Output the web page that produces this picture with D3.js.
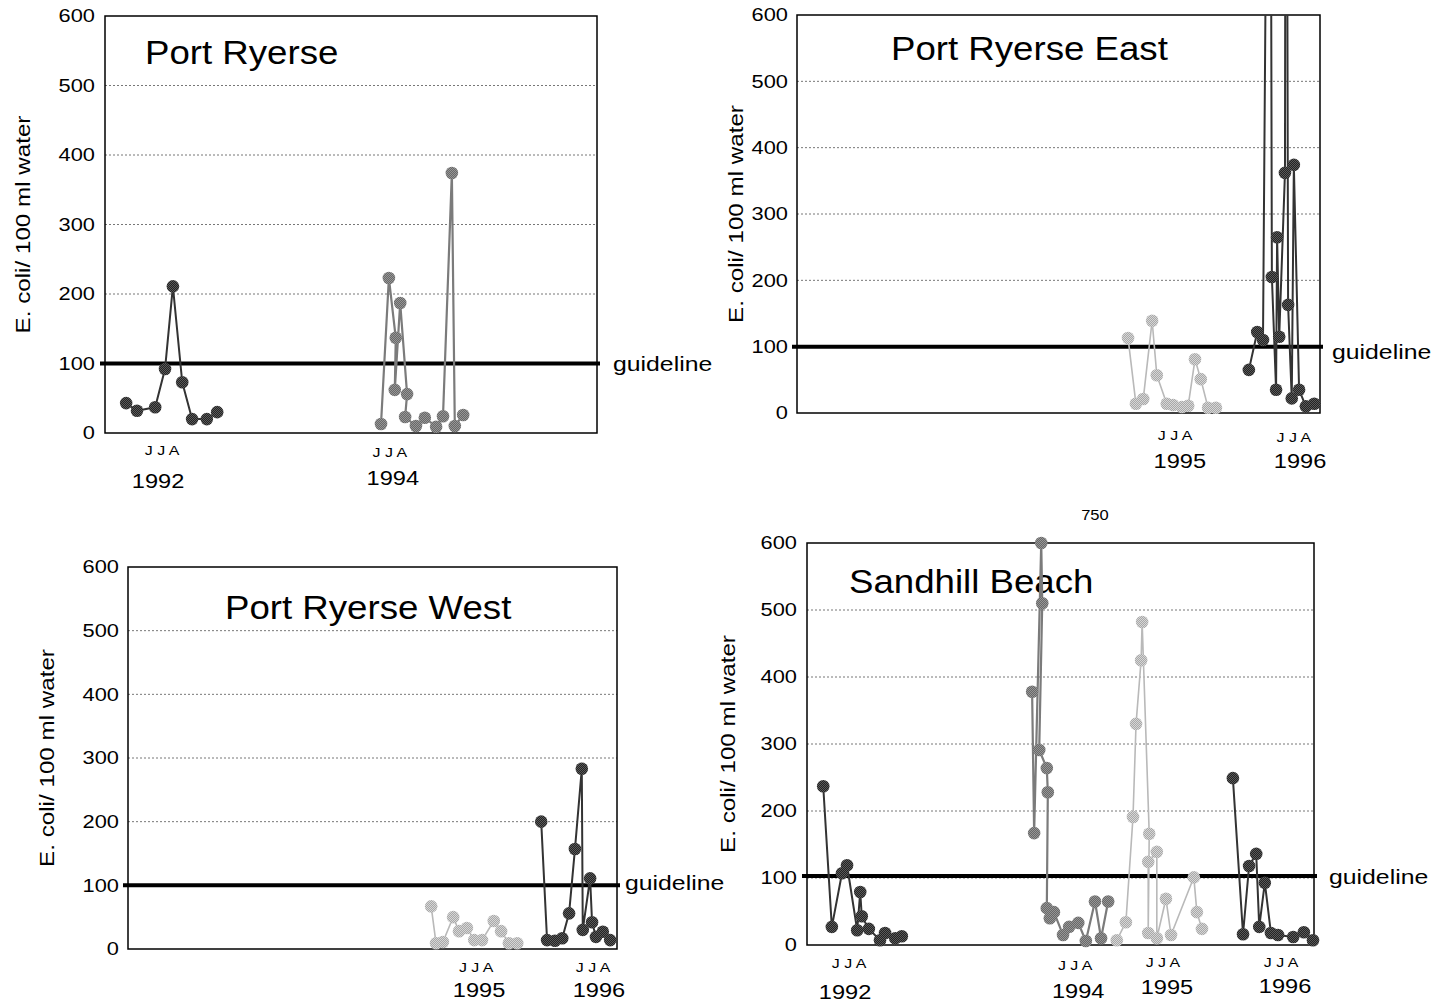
<!DOCTYPE html>
<html>
<head>
<meta charset="utf-8">
<script src="https://cdn.jsdelivr.net/npm/d3@7"></script>
<style>
  body { margin: 0; background: #fff; }
  svg { display: block; font-family: "Liberation Sans", Arial, Helvetica, sans-serif; }
</style>
</head>
<body>
<svg id="chart" width="1440" height="1005"></svg>
<script>
// ---------------- data ----------------
const panelTitles = ["Port Ryerse", "Port Ryerse East", "Port Ryerse West", "Sandhill Beach"];
const yTicks = [0, 100, 200, 300, 400, 500, 600];
const gridValues = [100, 200, 300, 400, 500];
const guidelineValues = [100, 100, 100, 103];
const yAxisTitle = "E. coli/ 100 ml water";
const guidelineLabel = "guideline";
const monthLabel = "J J A";

// sampling position along each panel's time axis (0-100) and E. coli per 100 ml
// Port Ryerse
const pr1992T = [4.3, 6.5, 10.2, 12.2, 13.8, 15.7, 17.7, 20.7, 22.8];
const pr1992V = [43, 32, 37, 92, 211, 73, 20, 20, 30];
const pr1994T = [56.1, 57.7, 59.1, 58.9, 60.0, 61.4, 61.0, 63.2, 65.0, 67.3, 68.7, 70.5, 71.1, 72.8];
const pr1994V = [13, 223, 137, 62, 187, 56, 23, 10, 22, 9, 24, 374, 10, 26];
// Port Ryerse East
const pre1995T = [63.3, 64.8, 66.2, 67.9, 68.8, 70.7, 71.9, 73.6, 74.8, 76.1, 77.2, 78.6, 80.1];
const pre1995V = [113, 14, 21, 139, 57, 14, 12, 9, 11, 81, 51, 8, 8];
const pre1996T = [86.4, 88.0, 89.1, 90.4, 90.8, 91.6, 91.8, 92.2, 93.3, 93.5, 93.9, 94.6, 95.0, 96.0, 97.3, 98.9];
const pre1996V = [65, 122, 110, 1500, 205, 35, 265, 115, 362, 1500, 163, 22, 374, 35, 10, 14];
// Port Ryerse West
const prw1995T = [62.0, 63.0, 64.4, 66.5, 67.7, 69.3, 70.8, 72.4, 74.8, 76.3, 77.9, 79.6];
const prw1995V = [67, 9, 11, 50, 28, 33, 14, 14, 44, 28, 9, 9];
const prw1996T = [84.5, 85.7, 87.3, 88.8, 90.2, 91.4, 92.8, 93.0, 94.5, 94.9, 95.7, 97.1, 98.6];
const prw1996V = [200, 14, 13, 17, 56, 157, 283, 30, 111, 42, 19, 27, 14];
// Sandhill Beach
const sb1992T = [3.2, 4.9, 6.9, 7.9, 9.9, 10.5, 10.8, 12.2, 14.4, 15.4, 17.4, 18.7];
const sb1992V = [237, 27, 107, 119, 22, 79, 43, 24, 7, 18, 10, 13];
const sb1994T = [44.4, 44.8, 46.2, 46.4, 45.8, 47.3, 47.5, 47.3, 47.9, 48.7, 50.5, 51.7, 53.5, 55.0, 56.8, 58.0, 59.4];
const sb1994V = [378, 167, 750, 510, 291, 264, 228, 55, 40, 49, 15, 27, 33, 6, 65, 10, 65];
const sb1995T = [61.1, 62.9, 64.3, 64.9, 65.9, 66.1, 67.5, 67.3, 67.3, 69.0, 69.0, 70.8, 71.8, 76.3, 76.9, 77.9];
const sb1995V = [7, 34, 191, 330, 425, 482, 166, 18, 124, 139, 10, 69, 15, 101, 49, 24];
const sb1996T = [84.0, 86.0, 87.2, 88.6, 89.2, 90.3, 91.5, 92.9, 95.9, 98.0, 99.8];
const sb1996V = [249, 16, 118, 136, 27, 93, 18, 15, 12, 19, 7];

// season labels under each panel: year and its position on the time axis
const pr1Years = ["1992", "1994"];
const pr1MonthT = [11.6, 57.9];
const pr1YearT = [10.8, 58.5];
const pr2Years = ["1995", "1996"];
const pr2MonthT = [72.3, 95.0];
const pr2YearT = [73.2, 96.2];
const pr3Years = ["1995", "1996"];
const pr3MonthT = [71.2, 95.1];
const pr3YearT = [71.8, 96.3];
const sbYears = ["1992", "1994", "1995", "1996"];
const sbMonthT = [8.3, 52.9, 70.2, 93.5];
const sbYearT = [7.5, 53.5, 71.0, 94.3];

// off-scale reading written above Sandhill Beach
const sbOffScaleLabel = "750";
const sbOffScaleT = 56.8;

// ---------------- assembly ----------------
const panelSeries = [
  [{t: pr1992T, v: pr1992V, shade: "dark"}, {t: pr1994T, v: pr1994V, shade: "mid"}],
  [{t: pre1995T, v: pre1995V, shade: "light"}, {t: pre1996T, v: pre1996V, shade: "dark"}],
  [{t: prw1995T, v: prw1995V, shade: "light"}, {t: prw1996T, v: prw1996V, shade: "dark"}],
  [{t: sb1992T, v: sb1992V, shade: "dark"}, {t: sb1994T, v: sb1994V, shade: "mid"},
   {t: sb1995T, v: sb1995V, shade: "light"}, {t: sb1996T, v: sb1996V, shade: "dark"}]
];
const panelSeasons = [
  {years: pr1Years, monthT: pr1MonthT, yearT: pr1YearT},
  {years: pr2Years, monthT: pr2MonthT, yearT: pr2YearT},
  {years: pr3Years, monthT: pr3MonthT, yearT: pr3YearT},
  {years: sbYears, monthT: sbMonthT, yearT: sbYearT}
];

// ---------------- layout ----------------
const layout = [
  {x0: 105, x1: 597, y0: 16, y1: 433, tickGap: 10, titleDx: 40, titleDy: 48, yTitleDx: -83,
   guideDx: 16, guideDy: 0, monthDy: [17, 19], yearDy: [48, 45], clamp: false},
  {x0: 797, x1: 1320, y0: 15, y1: 413, tickGap: 9, titleDx: 94, titleDy: 45, yTitleDx: -62,
   guideDx: 12, guideDy: 5, monthDy: [22, 24], yearDy: [48, 48], clamp: false},
  {x0: 128, x1: 617, y0: 567, y1: 949, tickGap: 9, titleDx: 97, titleDy: 52, yTitleDx: -82,
   guideDx: 8, guideDy: -3, monthDy: [18, 18], yearDy: [41, 41], clamp: false},
  {x0: 807, x1: 1314, y0: 543, y1: 945, tickGap: 10, titleDx: 42, titleDy: 50, yTitleDx: -80,
   guideDx: 15, guideDy: 1, monthDy: [18, 20, 17, 17], yearDy: [47, 46, 42, 41], clamp: true}
];

const shades = {
  dark:  {line: "#333333", width: 2,   base: "#232323", speck: "#5a5a5a"},
  mid:   {line: "#7b7b7b", width: 2.2, base: "#686868", speck: "#969696"},
  light: {line: "#b9b9b9", width: 1.6, base: "#a8a8a8", speck: "#d6d6d6"}
};

const svg = d3.select("#chart");
const defs = svg.append("defs");

// dithered dot fills
Object.entries(shades).forEach(([name, s]) => {
  const p = defs.append("pattern").attr("id", "dot-" + name)
    .attr("width", 2).attr("height", 2).attr("patternUnits", "userSpaceOnUse");
  p.append("rect").attr("width", 2).attr("height", 2).attr("fill", s.base);
  p.append("rect").attr("width", 1).attr("height", 1).attr("fill", s.speck);
  p.append("rect").attr("x", 1).attr("y", 1).attr("width", 1).attr("height", 1).attr("fill", s.speck);
});

panelTitles.forEach((title, i) => {
  const L = layout[i];
  const g = svg.append("g");
  const x = d3.scaleLinear().domain([0, 100]).range([L.x0, L.x1]);
  const y = d3.scaleLinear().domain([0, 600]).range([L.y1, L.y0]).clamp(L.clamp);

  defs.append("clipPath").attr("id", "clip" + i).append("rect")
    .attr("x", L.x0 - 10).attr("y", L.y0)
    .attr("width", L.x1 - L.x0 + 20).attr("height", L.y1 - L.y0 + 12);

  // dotted gridlines
  g.selectAll("line.grid").data(gridValues).join("line")
    .attr("class", "grid")
    .attr("x1", L.x0).attr("x2", L.x1)
    .attr("y1", d => y(d)).attr("y2", d => y(d))
    .attr("stroke", "#777").attr("stroke-width", 1).attr("stroke-dasharray", "2,2");

  // frame
  g.append("rect").attr("x", L.x0).attr("y", L.y0)
    .attr("width", L.x1 - L.x0).attr("height", L.y1 - L.y0)
    .attr("fill", "none").attr("stroke", "#000").attr("stroke-width", 1.5);

  // y tick labels via a d3 axis with hidden tick marks
  const yAxis = d3.axisLeft(y).tickValues(yTicks).tickSize(0).tickPadding(L.tickGap);
  const ag = g.append("g").attr("transform", `translate(${L.x0},0)`).call(yAxis);
  ag.select(".domain").remove();
  ag.selectAll("text")
    .attr("class", "s").attr("font-size", 18.5).attr("fill", "#000")
    .attr("font-family", "Liberation Sans, Arial, sans-serif");

  // y title
  g.append("text").attr("class", "s")
    .attr("transform", `translate(${L.x0 + L.yTitleDx},${(L.y0 + L.y1) / 2}) rotate(-90)`)
    .attr("text-anchor", "middle").attr("dominant-baseline", "central")
    .attr("font-size", 20.5).text(yAxisTitle);

  // panel title
  g.append("text").attr("class", "s t")
    .attr("x", L.x0 + L.titleDx).attr("y", L.y0 + L.titleDy)
    .attr("font-size", 33).text(title);

  // guideline
  const gv = guidelineValues[i];
  g.append("line")
    .attr("x1", L.x0 - 5).attr("x2", L.x1 + 3)
    .attr("y1", y(gv)).attr("y2", y(gv))
    .attr("stroke", "#000").attr("stroke-width", 4);
  g.append("text").attr("class", "s")
    .attr("x", L.x1 + L.guideDx).attr("y", y(gv) + L.guideDy)
    .attr("dominant-baseline", "central").attr("font-size", 21).text(guidelineLabel);

  // season labels
  const S = panelSeasons[i];
  S.years.forEach((yr, k) => {
    g.append("text").attr("class", "s")
      .attr("x", x(S.monthT[k])).attr("y", L.y1 + L.monthDy[k])
      .attr("text-anchor", "middle").attr("dominant-baseline", "central")
      .attr("font-size", 13.5).text(monthLabel);
    g.append("text").attr("class", "s")
      .attr("x", x(S.yearT[k])).attr("y", L.y1 + L.yearDy[k])
      .attr("text-anchor", "middle").attr("dominant-baseline", "central")
      .attr("font-size", 20).text(yr);
  });

  // data series
  const plot = g.append("g").attr("clip-path", L.clamp ? null : `url(#clip${i})`);
  panelSeries[i].forEach(ser => {
    const s = shades[ser.shade];
    const pts = ser.t.map((t, k) => ({t, v: ser.v[k]}));
    const line = d3.line().x(d => x(d.t)).y(d => y(d.v));
    plot.append("path").datum(pts)
      .attr("d", line).attr("fill", "none")
      .attr("stroke", s.line).attr("stroke-width", s.width).attr("stroke-linejoin", "round");
    plot.selectAll(null).data(pts).join("circle")
      .attr("cx", d => x(d.t)).attr("cy", d => y(d.v)).attr("r", 6.3)
      .attr("fill", `url(#dot-${ser.shade})`);
  });

  if (i === 3) {
    g.append("text").attr("class", "s")
      .attr("x", x(sbOffScaleT)).attr("y", L.y0 - 28)
      .attr("text-anchor", "middle").attr("dominant-baseline", "central")
      .attr("font-size", 14).text(sbOffScaleLabel);
  }
});

// widen lettering horizontally
svg.selectAll("text.s").each(function () {
  const f = this.classList.contains("t") ? 1.11 : 1.18;
  const len = this.getComputedTextLength();
  this.setAttribute("textLength", len * f);
  this.setAttribute("lengthAdjust", "spacingAndGlyphs");
});
</script>
</body>
</html>
